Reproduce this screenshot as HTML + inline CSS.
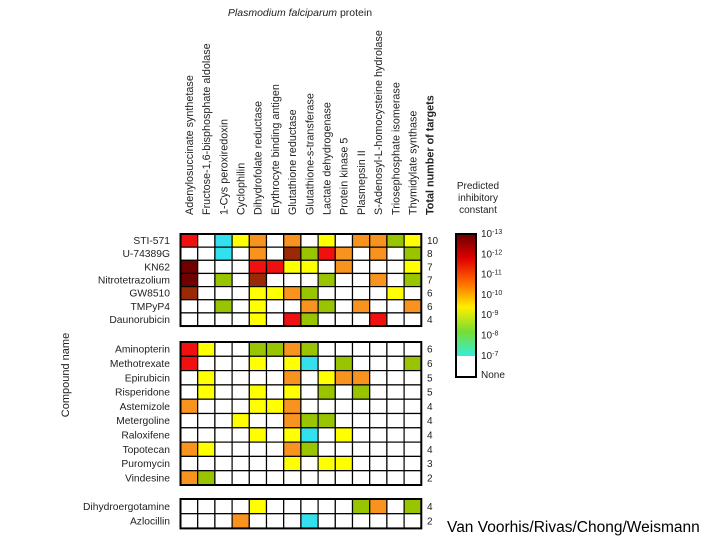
<!DOCTYPE html>
<html><head><meta charset="utf-8"><style>
body{margin:0;background:#fff;width:720px;height:540px;overflow:hidden;font-family:"Liberation Sans",Arial,sans-serif}
</style></head><body>
<svg id="chart" width="720" height="540" xmlns="http://www.w3.org/2000/svg" font-family="Liberation Sans, Arial, sans-serif">
<defs><linearGradient id="cb" x1="0" y1="0" x2="0" y2="1">
<stop offset="0" stop-color="#6a0000"/><stop offset="0.2" stop-color="#e00000"/><stop offset="0.4" stop-color="#ff6a00"/><stop offset="0.6" stop-color="#ffee00"/><stop offset="0.8" stop-color="#77dd33"/><stop offset="1" stop-color="#33eedd"/></linearGradient></defs>
</svg>
<script>
const proteins=["Adenylosuccinate synthetase","Fructose-1,6-bisphosphate aldolase","1-Cys peroxiredoxin","Cyclophilin","Dihydrofolate reductase","Erythrocyte binding antigen","Glutathione reductase","Glutathione-s-transferase","Lactate dehydrogenase","Protein kinase 5","Plasmepsin II","S-Adenosyl-L-homocysteine hydrolase","Triosephosphate isomerase","Thymidylate synthase"];
const compounds1=["STI-571","U-74389G","KN62","Nitrotetrazolium","GW8510","TMPyP4","Daunorubicin"];
const compounds2=["Aminopterin","Methotrexate","Epirubicin","Risperidone","Astemizole","Metergoline","Raloxifene","Topotecan","Puromycin","Vindesine"];
const compounds3=["Dihydroergotamine","Azlocillin"];
const totals1=[10,8,7,7,6,6,4];
const totals2=[6,6,5,5,4,4,4,4,3,2];
const totals3=[4,2];
// levels: 0 none,1=1e-7,2=1e-8,3=1e-9,4=1e-10,5=1e-11,6=1e-12,7=1e-13
const values1=[
[5,0,1,3,4,0,4,0,3,0,4,4,2,3],
[0,0,1,0,4,0,6,2,5,4,0,4,0,2],
[7,0,0,0,5,5,3,3,0,4,0,0,0,3],
[7,0,2,0,6,0,0,0,2,0,0,4,0,2],
[6,0,0,0,3,3,4,2,0,0,0,0,3,0],
[0,0,2,0,3,0,0,4,2,0,4,0,0,4],
[0,0,0,0,3,0,5,2,0,0,0,5,0,0]];
const values2=[
[5,3,0,0,2,2,4,2,0,0,0,0,0,0],
[5,0,0,0,3,0,3,1,0,2,0,0,0,2],
[0,3,0,0,0,0,4,0,3,4,4,0,0,0],
[0,3,0,0,3,0,3,0,2,0,2,0,0,0],
[4,0,0,0,3,3,4,0,0,0,0,0,0,0],
[0,0,0,3,0,0,4,2,2,0,0,0,0,0],
[0,0,0,0,3,0,3,1,0,3,0,0,0,0],
[4,3,0,0,0,0,4,2,0,0,0,0,0,0],
[0,0,0,0,0,0,3,0,3,3,0,0,0,0],
[4,2,0,0,0,0,0,0,0,0,0,0,0,0]];
const values3=[
[0,0,0,0,3,0,0,0,0,0,2,4,0,2],
[0,0,0,4,0,0,0,1,0,0,0,0,0,0]];
const legendTicks=["10-13","10-12","10-11","10-10","10-9","10-8","10-7"];
const palette=["#ffffff","#33e0ee","#99c400","#ffff00","#f7931e","#f01010","#9a2a05","#700000"];

const svg=document.getElementById('chart');const NS="http://www.w3.org/2000/svg";
function mk(t,a,txt){const e=document.createElementNS(NS,t);for(const k in a)e.setAttribute(k,a[k]);if(txt!==undefined)e.textContent=txt;svg.appendChild(e);return e;}
const x0=180.5,cw=17.2;
const xs=i=>x0+i*cw;
function group(names,vals,tots,top,rh,gname){
  names.forEach((n,r)=>{
    const y=top+r*rh;
    vals[r].forEach((v,c)=>{
      const e=mk('rect',{x:xs(c),y:y,width:cw,height:rh,fill:palette[v],stroke:'#000','stroke-width':1.2});
      
      
    });
    const l=mk('text',{x:170,y:y+rh/2+3.5,'text-anchor':'end','font-size':10.3,fill:'#222'},n);
    
    
    const t=mk('text',{x:427,y:y+rh/2+3.5,'font-size':10,fill:'#222'},tots[r]);
    
    
  });
  mk('rect',{x:x0,y:top,width:cw*14,height:rh*names.length,fill:'none',stroke:'#000','stroke-width':2});
}
group(compounds1,values1,totals1,234,13.15,'g1');
group(compounds2,values2,totals2,342,14.3,'g2');
group(compounds3,values3,totals3,499,14.7,'g3');
proteins.concat(["Total number of targets"]).forEach((p,i)=>{
  const x=xs(i)+cw/2+3.8;
  const t=mk('text',{x:x,y:215,transform:`rotate(-90 ${x} 215)`,'font-size':10.8,fill:'#222','font-weight':i==14?'bold':'normal'},p);
  
  
});
const ti=mk('text',{x:300,y:16,'text-anchor':'middle','font-size':10.5,fill:'#222'});
ti.innerHTML='<tspan font-style="italic">Plasmodium falciparum</tspan> protein';


const yt=mk('text',{x:69,y:375,transform:'rotate(-90 69 375)','text-anchor':'middle','font-size':11,fill:'#222'},'Compound name');


["Predicted","inhibitory","constant"].forEach((s,i)=>{const e=mk('text',{x:478,y:189+i*12,'text-anchor':'middle','font-size':10,fill:'#222'},s);

});
mk('rect',{x:456,y:234,width:20,height:122,fill:'url(#cb)'});
const lb=mk('rect',{x:456,y:234,width:20,height:143,fill:'none',stroke:'#000','stroke-width':2});


legendTicks.forEach((s,i)=>{const y=237+i*20.3;const e=mk('text',{x:481,y:y,'font-size':10,fill:'#222'});
e.innerHTML='10<tspan dy="-3" font-size="7">'+s.slice(2)+'</tspan>';

});
const nn=mk('text',{x:481,y:378,'font-size':10,fill:'#222'},'None');


const ft=mk('text',{x:447,y:532,'font-size':15.5,fill:'#000'},'Van Voorhis/Rivas/Chong/Weismann');


</script>
</body></html>
